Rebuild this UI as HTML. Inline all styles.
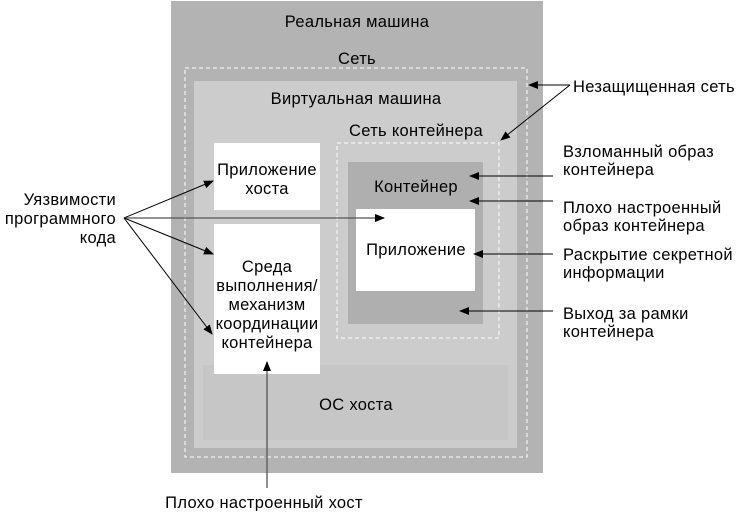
<!DOCTYPE html>
<html><head><meta charset="utf-8"><style>
body{margin:0;background:#fff;}
svg text{font-family:"Liberation Sans","DejaVu Sans",sans-serif;font-size:16.5px;letter-spacing:0.3px;fill:#000;}
</style></head><body>
<svg width="738" height="511" viewBox="0 0 738 511" xmlns="http://www.w3.org/2000/svg">
<defs><marker id="a" markerWidth="10" markerHeight="8" refX="9" refY="4" orient="auto" markerUnits="userSpaceOnUse"><path d="M0,0 L10,4 L0,8 z" fill="#000"/></marker></defs>
<rect x="171" y="1" width="372" height="472" fill="#b3b3b3"/>
<rect x="194" y="81" width="323" height="367" fill="#cccccc"/>
<rect x="203" y="365" width="305" height="75" fill="#c6c6c6"/>
<rect x="185" y="68" width="342" height="389" fill="none" stroke="#fff" stroke-dasharray="4,3"/>
<rect x="337" y="143" width="162" height="195" fill="none" stroke="#fff" stroke-dasharray="4,3"/>
<rect x="348" y="162" width="135" height="162" fill="#afafaf"/>
<rect x="356" y="209" width="119" height="82" fill="#fff"/>
<rect x="214" y="143" width="106" height="67" fill="#fff"/>
<rect x="214" y="224" width="106" height="150" fill="#fff"/>
<g text-anchor="middle">
<text x="357" y="27">Реальная машина</text>
<text x="357" y="64">Сеть</text>
<text x="356" y="104">Виртуальная машина</text>
<text x="416" y="136">Сеть контейнера</text>
<text x="267" y="175">Приложение</text>
<text x="267" y="194">хоста</text>
<text x="416" y="192">Контейнер</text>
<text x="416" y="255">Приложение</text>
<text x="267" y="272">Среда</text>
<text x="267" y="291">выполнения/</text>
<text x="267" y="310">механизм</text>
<text x="267" y="329">координации</text>
<text x="267" y="348">контейнера</text>
<text x="356" y="410">ОС хоста</text>
<text x="264" y="508">Плохо настроенный хост</text>
</g>
<g text-anchor="end">
<text x="116" y="205">Уязвимости</text>
<text x="116" y="224">программного</text>
<text x="116" y="243">кода</text>
</g>
<text x="573" y="92">Незащищенная сеть</text>
<text x="563" y="157">Взломанный образ</text>
<text x="563" y="175">контейнера</text>
<text x="563" y="213">Плохо настроенный</text>
<text x="563" y="231">образ контейнера</text>
<text x="563" y="260">Раскрытие секретной</text>
<text x="563" y="278">информации</text>
<text x="563" y="319">Выход за рамки</text>
<text x="563" y="337">контейнера</text>
<g stroke="#000" stroke-width="1" fill="none" marker-end="url(#a)">
<line x1="124" y1="218" x2="213" y2="181"/>
<line x1="124" y1="218" x2="384" y2="218" stroke="#555" stroke-width="1.3"/>
<line x1="124" y1="218" x2="213" y2="254"/>
<line x1="124" y1="218" x2="212" y2="334"/>
<line x1="267" y1="488" x2="267" y2="362" stroke="#555" stroke-width="1.3"/>
<line x1="570" y1="85" x2="529" y2="85"/>
<line x1="570" y1="85" x2="501" y2="140"/>
<line x1="553" y1="176" x2="470" y2="176"/>
<line x1="553" y1="201" x2="470" y2="201"/>
<line x1="553" y1="254" x2="474" y2="254"/>
<line x1="553" y1="311" x2="460" y2="311"/>
</g>
</svg>
</body></html>
